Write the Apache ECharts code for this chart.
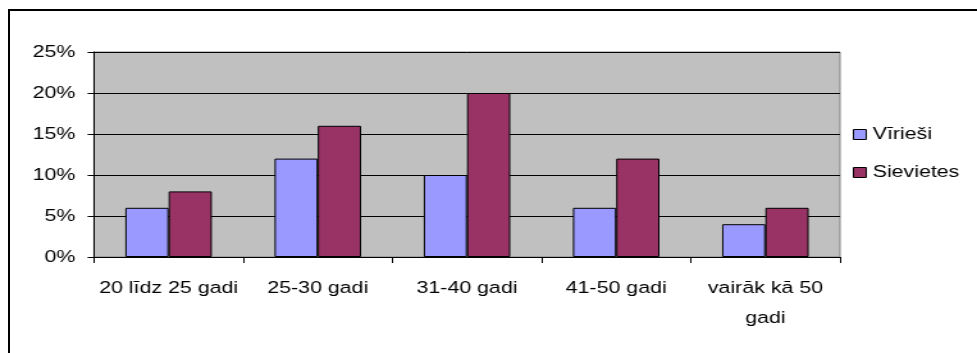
<!DOCTYPE html>
<html>
<head>
<meta charset="utf-8">
<script src="https://cdn.jsdelivr.net/npm/echarts@6/dist/echarts.min.js"></script>
<style>
html,body{margin:0;padding:0;background:#fff;overflow:hidden;}
#frame{position:absolute;left:8px;top:9px;width:969px;height:344px;border-top:2px solid #000;border-left:2px solid #000;box-sizing:border-box;}
#chart{position:absolute;left:0;top:0;width:763px;height:353px;transform:scaleX(1.2805);transform-origin:0 0;}
</style>
</head>
<body>
<div id="frame"></div>
<div id="chart"></div>
<script>
var categories = ['20 līdz 25 gadi', '25-30 gadi', '31-40 gadi', '41-50 gadi', 'vairāk kā 50 gadi'];
var seriesNames = ['Vīrieši', 'Sievietes'];
var men = [6, 12, 10, 6, 4];
var women = [8, 16, 20, 12, 6];
var yTicks = [0, 5, 10, 15, 20, 25];

var chart = echarts.init(document.getElementById('chart'), null, {renderer: 'canvas'});
var font = 'Arial, "Liberation Sans", sans-serif';
var fs = 16.7;
chart.setOption({
  animation: false,
  textStyle: {fontFamily: font},
  legend: {
    orient: 'vertical',
    left: 661,
    top: 121,
    itemWidth: 10,
    itemHeight: 10,
    itemGap: 21,
    icon: 'rect',
    itemStyle: {borderColor: '#000', borderWidth: 1},
    textStyle: {fontSize: fs, color: '#000', fontFamily: font},
    data: seriesNames
  },
  grid: {
    left: 73.4, top: 52, width: 582.6, height: 205,
    show: true, backgroundColor: '#C0C0C0', borderColor: '#808080', borderWidth: 1
  },
  xAxis: {
    type: 'category',
    data: categories,
    axisLine: {lineStyle: {color: '#000', width: 1}},
    axisTick: {show: true, length: 6, lineStyle: {color: '#000'}},
    axisLabel: {
      fontSize: fs, color: '#000', margin: 16, lineHeight: 30, interval: 0, fontFamily: font,
      formatter: function (v) { return v.length > 16 ? v.replace(/ (\S+)$/, '\n$1') : v; }
    }
  },
  yAxis: {
    type: 'value',
    min: yTicks[0], max: yTicks[yTicks.length-1], interval: 5,
    axisLine: {show: true, lineStyle: {color: '#000'}},
    axisTick: {show: true, length: 5, lineStyle: {color: '#000'}},
    splitLine: {show: true, lineStyle: {color: '#000', width: 1}},
    axisLabel: {fontSize: fs, color: '#000', margin: 14.5, formatter: '{value}%', fontFamily: font}
  },
  series: [
    {name: seriesNames[0], type: 'bar', data: men, barGap: '0%', barCategoryGap: '42%',
     itemStyle: {color: '#9999FF', borderColor: '#000', borderWidth: 1}},
    {name: seriesNames[1], type: 'bar', data: women,
     itemStyle: {color: '#993366', borderColor: '#000', borderWidth: 1}}
  ]
});
</script>
</body>
</html>
